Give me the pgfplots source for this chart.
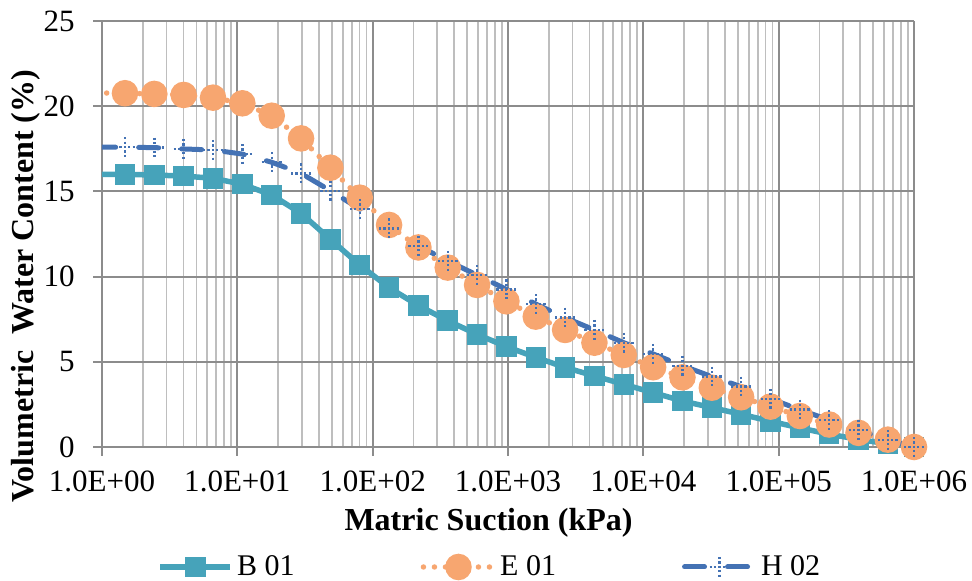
\documentclass[border=0pt]{standalone}
\usepackage{fontspec}
\setmainfont{Liberation Serif}
\usepackage{pgfplots}
\pgfplotsset{compat=1.18}
\definecolor{cB}{HTML}{46A3BA}
\definecolor{cE}{HTML}{F7A670}
\definecolor{cH}{HTML}{4472B4}
\definecolor{gmaj}{HTML}{8C8C8C}
\definecolor{gmin}{HTML}{BEBEBE}
\begin{document}
\begin{tikzpicture}
\begin{axis}[
  xmode=log, scale only axis, width=406pt, height=213pt,
  xmin=1, xmax=1e6, ymin=0, ymax=25,
  xtick={1,10,100,1000,10000,100000,1000000},
  xticklabels={1.0E+00,1.0E+01,1.0E+02,1.0E+03,1.0E+04,1.0E+05,1.0E+06},
  minor xtick={2,3,4,5,6,7,8,9,20,30,40,50,60,70,80,90,200,300,400,500,600,700,800,900,2000,3000,4000,5000,6000,7000,8000,9000,20000,30000,40000,50000,60000,70000,80000,90000,200000,300000,400000,500000,600000,700000,800000,900000},
  ytick={0,5,10,15,20,25}, yticklabels={0,5,10,15,20,25},
  axis lines*=left, axis line style={gmaj, line width=1pt},
  grid=both, major grid style={gmaj, line width=1pt}, minor grid style={gmin, line width=0.9pt},
  tick align=outside, major tick length=4.5pt, minor tick length=0pt,
  tick style={gmaj, line width=1pt},
  tick label style={font=\fontsize{15.5}{18}\selectfont},
  xticklabel style={anchor=center, yshift=-12.5pt},
  yticklabel style={anchor=east, inner sep=0pt, xshift=-9pt},
  label style={font=\bfseries\fontsize{16}{19}\selectfont},
  xlabel={Matric Suction (kPa)},
  ylabel={Volumetric\ \ Water Content (\%)},
  xlabel style={at={(axis description cs:0.476,-0.1784)}, anchor=center},
  ylabel style={at={(axis description cs:-0.0936,0.378)}, anchor=center},
  legend columns=3,
  legend style={at={(axis description cs:0.479,-0.2817)}, anchor=center, draw=none, fill=none,
    font=\fontsize{15}{18}\selectfont, inner sep=0pt,
    nodes={inner sep=2pt},
    /tikz/every even column/.append style={column sep=61pt}},
  legend cell align=left,
  legend image code/.code={\draw[#1, mark indices={2}] plot coordinates {(0pt,0pt) (17.5pt,0pt) (35pt,0pt)};},
]
\addplot[cB, line width=2.75pt, mark=square*, mark size=3.75pt, mark options={draw=none, fill=cB, solid}, mark indices={1,...,28}] coordinates {
(0.898,16.0) (1.479,16.0) (2.436,15.96) (4.015,15.9) (6.612,15.77) (10.89,15.42) (17.95,14.79) (29.57,13.71) (48.71,12.19) (80.25,10.68)
(132.2,9.35) (217.8,8.3) (358.7,7.41) (590.9,6.61) (973.6,5.89) (1604,5.26) (2642,4.67) (4352,4.17) (7170,3.68)
(11812,3.19) (19459,2.70) (32063,2.31) (52820,1.92) (87015,1.51) (143350,1.12) (236150,0.75) (389000,0.45) (640900,0.18) (1000000,0)
};
\addlegendentry{B 01}
\addplot[cE, line width=2.75pt, line cap=round, dash pattern=on 0pt off 5.5pt, mark=*, mark size=5.25pt, mark options={draw=none, fill=cE, solid}, mark indices={1,...,28}] coordinates {
(0.898,20.78) (1.479,20.76) (2.436,20.72) (4.015,20.66) (6.612,20.50) (10.89,20.17) (17.95,19.44) (29.57,18.11) (48.71,16.39) (80.25,14.63)
(132.2,13.03) (217.8,11.71) (358.7,10.53) (590.9,9.51) (973.6,8.55) (1604,7.65) (2642,6.87) (4352,6.12) (7170,5.40)
(11812,4.68) (19459,4.09) (32063,3.48) (52820,2.92) (87015,2.37) (143350,1.82) (236150,1.32) (389000,0.83) (640900,0.43) (1000000,0)
};
\addlegendentry{E 01}
\addplot[cH, line width=2.5pt, line cap=round, dash pattern=on 10pt off 11.5pt, mark=+, mark size=5pt, mark options={line width=1.2pt, dash pattern=on 1.1pt off 1.1pt, line cap=butt}, mark indices={1,...,28}] coordinates {
(0.898,17.6) (1.479,17.59) (2.436,17.57) (4.015,17.49) (6.612,17.43) (10.89,17.19) (17.95,16.71) (29.57,16.06) (48.71,15.04) (80.25,13.97)
(132.2,12.83) (217.8,11.8) (358.7,10.92) (590.9,10.09) (973.6,9.25) (1604,8.39) (2642,7.59) (4352,6.87) (7170,6.12)
(11812,5.46) (19459,4.77) (32063,4.13) (52820,3.54) (87015,2.83) (143350,2.19) (236150,1.58) (389000,1.00) (640900,0.41) (1000000,0)
};
\addlegendentry{H 02}
\end{axis}
\pgfresetboundingbox
\path[use as bounding box] (-51pt,-67pt) rectangle (435pt,223.5pt);
\end{tikzpicture}
\end{document}
